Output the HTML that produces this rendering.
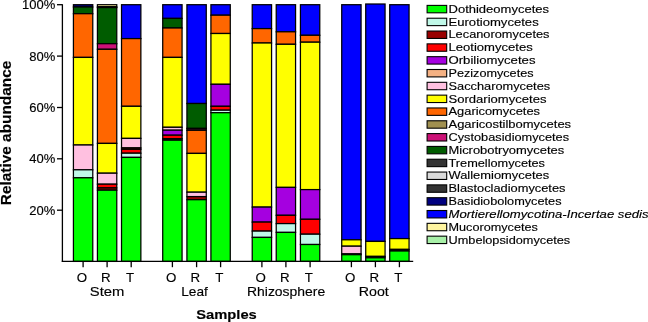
<!DOCTYPE html>
<html><head><meta charset="utf-8"><style>
html,body{margin:0;padding:0;background:#fff;}
body{width:648px;height:322px;overflow:hidden;}
svg{display:block;font-family:"Liberation Sans",sans-serif;will-change:transform;}
text{fill:#000;stroke:#000;stroke-width:0.15px;}
</style></head><body>
<svg width="648" height="322" viewBox="0 0 648 322">
<rect width="648" height="322" fill="#fff"/>
<rect x="73.42" y="4.70" width="19.35" height="2.30" fill="#000080" stroke="#000" stroke-width="1.25"/>
<rect x="73.42" y="7.00" width="19.35" height="6.70" fill="#005C00" stroke="#000" stroke-width="1.25"/>
<rect x="73.42" y="13.70" width="19.35" height="43.70" fill="#FF6600" stroke="#000" stroke-width="1.25"/>
<rect x="73.42" y="57.40" width="19.35" height="87.60" fill="#FFFF00" stroke="#000" stroke-width="1.25"/>
<rect x="73.42" y="145.00" width="19.35" height="24.80" fill="#FFC0E0" stroke="#000" stroke-width="1.25"/>
<rect x="73.42" y="169.80" width="19.35" height="8.00" fill="#C0F8E8" stroke="#000" stroke-width="1.25"/>
<rect x="73.42" y="177.80" width="19.35" height="83.60" fill="#00FF00" stroke="#000" stroke-width="1.25"/>
<rect x="97.42" y="4.70" width="19.35" height="2.10" fill="#FFF5A0" stroke="#000" stroke-width="1.25"/>
<rect x="97.42" y="6.80" width="19.35" height="0.80" fill="#1a1a1a" stroke="#000" stroke-width="1.25"/>
<rect x="97.42" y="7.60" width="19.35" height="36.10" fill="#005C00" stroke="#000" stroke-width="1.25"/>
<rect x="97.42" y="43.70" width="19.35" height="5.60" fill="#CC1177" stroke="#000" stroke-width="1.25"/>
<rect x="97.42" y="49.30" width="19.35" height="94.10" fill="#FF6600" stroke="#000" stroke-width="1.25"/>
<rect x="97.42" y="143.40" width="19.35" height="29.80" fill="#FFFF00" stroke="#000" stroke-width="1.25"/>
<rect x="97.42" y="173.20" width="19.35" height="11.00" fill="#FFC0E0" stroke="#000" stroke-width="1.25"/>
<rect x="97.42" y="184.20" width="19.35" height="3.70" fill="#FF0000" stroke="#000" stroke-width="1.25"/>
<rect x="97.42" y="187.90" width="19.35" height="2.30" fill="#990000" stroke="#000" stroke-width="1.25"/>
<rect x="97.42" y="190.20" width="19.35" height="71.20" fill="#00FF00" stroke="#000" stroke-width="1.25"/>
<rect x="121.52" y="4.70" width="19.35" height="33.90" fill="#0000FF" stroke="#000" stroke-width="1.25"/>
<rect x="121.52" y="38.60" width="19.35" height="67.70" fill="#FF6600" stroke="#000" stroke-width="1.25"/>
<rect x="121.52" y="106.30" width="19.35" height="32.10" fill="#FFFF00" stroke="#000" stroke-width="1.25"/>
<rect x="121.52" y="138.40" width="19.35" height="9.50" fill="#FFC0E0" stroke="#000" stroke-width="1.25"/>
<rect x="121.52" y="147.90" width="19.35" height="1.40" fill="#990000" stroke="#000" stroke-width="1.25"/>
<rect x="121.52" y="149.30" width="19.35" height="3.90" fill="#FF0000" stroke="#000" stroke-width="1.25"/>
<rect x="121.52" y="153.20" width="19.35" height="4.20" fill="#C0F8E8" stroke="#000" stroke-width="1.25"/>
<rect x="121.52" y="157.40" width="19.35" height="104.00" fill="#00FF00" stroke="#000" stroke-width="1.25"/>
<rect x="162.72" y="4.70" width="19.35" height="13.70" fill="#0000FF" stroke="#000" stroke-width="1.25"/>
<rect x="162.72" y="18.40" width="19.35" height="9.60" fill="#005C00" stroke="#000" stroke-width="1.25"/>
<rect x="162.72" y="28.00" width="19.35" height="29.40" fill="#FF6600" stroke="#000" stroke-width="1.25"/>
<rect x="162.72" y="57.40" width="19.35" height="69.90" fill="#FFFF00" stroke="#000" stroke-width="1.25"/>
<rect x="162.72" y="127.30" width="19.35" height="2.90" fill="#FFC0E0" stroke="#000" stroke-width="1.25"/>
<rect x="162.72" y="130.20" width="19.35" height="5.00" fill="#A500E0" stroke="#000" stroke-width="1.25"/>
<rect x="162.72" y="135.20" width="19.35" height="3.50" fill="#FF0000" stroke="#000" stroke-width="1.25"/>
<rect x="162.72" y="138.70" width="19.35" height="1.50" fill="#0a3a0a" stroke="#000" stroke-width="1.25"/>
<rect x="162.72" y="140.20" width="19.35" height="121.20" fill="#00FF00" stroke="#000" stroke-width="1.25"/>
<rect x="186.92" y="4.70" width="19.35" height="98.80" fill="#0000FF" stroke="#000" stroke-width="1.25"/>
<rect x="186.92" y="103.50" width="19.35" height="24.90" fill="#005C00" stroke="#000" stroke-width="1.25"/>
<rect x="186.92" y="128.40" width="19.35" height="1.90" fill="#4a0a2a" stroke="#000" stroke-width="1.25"/>
<rect x="186.92" y="130.30" width="19.35" height="23.10" fill="#FF6600" stroke="#000" stroke-width="1.25"/>
<rect x="186.92" y="153.40" width="19.35" height="38.80" fill="#FFFF00" stroke="#000" stroke-width="1.25"/>
<rect x="186.92" y="192.20" width="19.35" height="4.40" fill="#FFC0E0" stroke="#000" stroke-width="1.25"/>
<rect x="186.92" y="196.60" width="19.35" height="3.10" fill="#990000" stroke="#000" stroke-width="1.25"/>
<rect x="186.92" y="199.70" width="19.35" height="61.70" fill="#00FF00" stroke="#000" stroke-width="1.25"/>
<rect x="210.92" y="4.70" width="19.35" height="10.50" fill="#0000FF" stroke="#000" stroke-width="1.25"/>
<rect x="210.92" y="15.20" width="19.35" height="18.30" fill="#FF6600" stroke="#000" stroke-width="1.25"/>
<rect x="210.92" y="33.50" width="19.35" height="50.80" fill="#FFFF00" stroke="#000" stroke-width="1.25"/>
<rect x="210.92" y="84.30" width="19.35" height="22.00" fill="#A500E0" stroke="#000" stroke-width="1.25"/>
<rect x="210.92" y="106.30" width="19.35" height="3.90" fill="#FF0000" stroke="#000" stroke-width="1.25"/>
<rect x="210.92" y="110.20" width="19.35" height="2.50" fill="#C0F8E8" stroke="#000" stroke-width="1.25"/>
<rect x="210.92" y="112.70" width="19.35" height="148.70" fill="#00FF00" stroke="#000" stroke-width="1.25"/>
<rect x="252.22" y="4.70" width="19.35" height="23.90" fill="#0000FF" stroke="#000" stroke-width="1.25"/>
<rect x="252.22" y="28.60" width="19.35" height="14.40" fill="#FF6600" stroke="#000" stroke-width="1.25"/>
<rect x="252.22" y="43.00" width="19.35" height="164.10" fill="#FFFF00" stroke="#000" stroke-width="1.25"/>
<rect x="252.22" y="207.10" width="19.35" height="15.00" fill="#A500E0" stroke="#000" stroke-width="1.25"/>
<rect x="252.22" y="222.10" width="19.35" height="9.00" fill="#FF0000" stroke="#000" stroke-width="1.25"/>
<rect x="252.22" y="231.10" width="19.35" height="6.30" fill="#C0F8E8" stroke="#000" stroke-width="1.25"/>
<rect x="252.22" y="237.40" width="19.35" height="24.00" fill="#00FF00" stroke="#000" stroke-width="1.25"/>
<rect x="276.22" y="4.70" width="19.35" height="27.10" fill="#0000FF" stroke="#000" stroke-width="1.25"/>
<rect x="276.22" y="31.80" width="19.35" height="12.50" fill="#FF6600" stroke="#000" stroke-width="1.25"/>
<rect x="276.22" y="44.30" width="19.35" height="143.10" fill="#FFFF00" stroke="#000" stroke-width="1.25"/>
<rect x="276.22" y="187.40" width="19.35" height="27.90" fill="#A500E0" stroke="#000" stroke-width="1.25"/>
<rect x="276.22" y="215.30" width="19.35" height="8.30" fill="#FF0000" stroke="#000" stroke-width="1.25"/>
<rect x="276.22" y="223.60" width="19.35" height="8.80" fill="#C0F8E8" stroke="#000" stroke-width="1.25"/>
<rect x="276.22" y="232.40" width="19.35" height="29.00" fill="#00FF00" stroke="#000" stroke-width="1.25"/>
<rect x="300.43" y="4.70" width="19.35" height="30.60" fill="#0000FF" stroke="#000" stroke-width="1.25"/>
<rect x="300.43" y="35.30" width="19.35" height="6.90" fill="#FF6600" stroke="#000" stroke-width="1.25"/>
<rect x="300.43" y="42.20" width="19.35" height="147.40" fill="#FFFF00" stroke="#000" stroke-width="1.25"/>
<rect x="300.43" y="189.60" width="19.35" height="29.70" fill="#A500E0" stroke="#000" stroke-width="1.25"/>
<rect x="300.43" y="219.30" width="19.35" height="14.90" fill="#FF0000" stroke="#000" stroke-width="1.25"/>
<rect x="300.43" y="234.20" width="19.35" height="10.30" fill="#C0F8E8" stroke="#000" stroke-width="1.25"/>
<rect x="300.43" y="244.50" width="19.35" height="16.90" fill="#00FF00" stroke="#000" stroke-width="1.25"/>
<rect x="341.72" y="4.70" width="19.35" height="235.10" fill="#0000FF" stroke="#000" stroke-width="1.25"/>
<rect x="341.72" y="239.80" width="19.35" height="6.40" fill="#FFFF00" stroke="#000" stroke-width="1.25"/>
<rect x="341.72" y="246.20" width="19.35" height="7.70" fill="#FFC0E0" stroke="#000" stroke-width="1.25"/>
<rect x="341.72" y="253.90" width="19.35" height="0.80" fill="#1a1a1a" stroke="#000" stroke-width="1.25"/>
<rect x="341.72" y="254.70" width="19.35" height="6.70" fill="#00FF00" stroke="#000" stroke-width="1.25"/>
<rect x="365.72" y="4.00" width="19.35" height="237.40" fill="#0000FF" stroke="#000" stroke-width="1.25"/>
<rect x="365.72" y="241.40" width="19.35" height="15.00" fill="#FFFF00" stroke="#000" stroke-width="1.25"/>
<rect x="365.72" y="256.40" width="19.35" height="1.40" fill="#0a3a0a" stroke="#000" stroke-width="1.25"/>
<rect x="365.72" y="257.80" width="19.35" height="3.60" fill="#00FF00" stroke="#000" stroke-width="1.25"/>
<rect x="389.72" y="4.70" width="19.35" height="233.90" fill="#0000FF" stroke="#000" stroke-width="1.25"/>
<rect x="389.72" y="238.60" width="19.35" height="10.80" fill="#FFFF00" stroke="#000" stroke-width="1.25"/>
<rect x="389.72" y="249.40" width="19.35" height="1.60" fill="#1a1a1a" stroke="#000" stroke-width="1.25"/>
<rect x="389.72" y="251.00" width="19.35" height="10.40" fill="#00FF00" stroke="#000" stroke-width="1.25"/>
<line x1="62.4" y1="4.2" x2="62.4" y2="262.0" stroke="#000" stroke-width="1.3"/>
<line x1="61.8" y1="261.4" x2="413.2" y2="261.4" stroke="#000" stroke-width="1.3"/>
<line x1="57" y1="4.7" x2="62.4" y2="4.7" stroke="#000" stroke-width="1.3"/>
<text x="55.3" y="9.1" text-anchor="end" font-size="13">100%</text>
<line x1="57" y1="56.1" x2="62.4" y2="56.1" stroke="#000" stroke-width="1.3"/>
<text x="55.3" y="60.5" text-anchor="end" font-size="13">80%</text>
<line x1="57" y1="107.5" x2="62.4" y2="107.5" stroke="#000" stroke-width="1.3"/>
<text x="55.3" y="111.9" text-anchor="end" font-size="13">60%</text>
<line x1="57" y1="158.8" x2="62.4" y2="158.8" stroke="#000" stroke-width="1.3"/>
<text x="55.3" y="163.2" text-anchor="end" font-size="13">40%</text>
<line x1="57" y1="210.2" x2="62.4" y2="210.2" stroke="#000" stroke-width="1.3"/>
<text x="55.3" y="214.6" text-anchor="end" font-size="13">20%</text>
<line x1="83.10" y1="261.4" x2="83.10" y2="267.2" stroke="#000" stroke-width="1.3"/>
<text x="81.90" y="282.1" text-anchor="middle" font-size="13.3">O</text>
<line x1="107.10" y1="261.4" x2="107.10" y2="267.2" stroke="#000" stroke-width="1.3"/>
<text x="105.90" y="282.1" text-anchor="middle" font-size="13.3">R</text>
<line x1="131.20" y1="261.4" x2="131.20" y2="267.2" stroke="#000" stroke-width="1.3"/>
<text x="130.00" y="282.1" text-anchor="middle" font-size="13.3">T</text>
<line x1="172.40" y1="261.4" x2="172.40" y2="267.2" stroke="#000" stroke-width="1.3"/>
<text x="171.20" y="282.1" text-anchor="middle" font-size="13.3">O</text>
<line x1="196.60" y1="261.4" x2="196.60" y2="267.2" stroke="#000" stroke-width="1.3"/>
<text x="195.40" y="282.1" text-anchor="middle" font-size="13.3">R</text>
<line x1="220.60" y1="261.4" x2="220.60" y2="267.2" stroke="#000" stroke-width="1.3"/>
<text x="219.40" y="282.1" text-anchor="middle" font-size="13.3">T</text>
<line x1="261.90" y1="261.4" x2="261.90" y2="267.2" stroke="#000" stroke-width="1.3"/>
<text x="260.70" y="282.1" text-anchor="middle" font-size="13.3">O</text>
<line x1="285.90" y1="261.4" x2="285.90" y2="267.2" stroke="#000" stroke-width="1.3"/>
<text x="284.70" y="282.1" text-anchor="middle" font-size="13.3">R</text>
<line x1="310.10" y1="261.4" x2="310.10" y2="267.2" stroke="#000" stroke-width="1.3"/>
<text x="308.90" y="282.1" text-anchor="middle" font-size="13.3">T</text>
<line x1="351.40" y1="261.4" x2="351.40" y2="267.2" stroke="#000" stroke-width="1.3"/>
<text x="350.20" y="282.1" text-anchor="middle" font-size="13.3">O</text>
<line x1="375.40" y1="261.4" x2="375.40" y2="267.2" stroke="#000" stroke-width="1.3"/>
<text x="374.20" y="282.1" text-anchor="middle" font-size="13.3">R</text>
<line x1="399.40" y1="261.4" x2="399.40" y2="267.2" stroke="#000" stroke-width="1.3"/>
<text x="398.20" y="282.1" text-anchor="middle" font-size="13.3">T</text>
<text x="89.80" y="296.3" font-size="13.6" textLength="34.6" lengthAdjust="spacingAndGlyphs">Stem</text>
<text x="181.20" y="296.3" font-size="13.6" textLength="26.6" lengthAdjust="spacingAndGlyphs">Leaf</text>
<text x="247.00" y="296.3" font-size="13.6" textLength="78.2" lengthAdjust="spacingAndGlyphs">Rhizosphere</text>
<text x="358.80" y="296.3" font-size="13.6" textLength="30" lengthAdjust="spacingAndGlyphs">Root</text>
<text x="196.2" y="318.5" font-size="13" font-weight="bold" textLength="60.6" lengthAdjust="spacingAndGlyphs">Samples</text>
<text transform="translate(10.6,205.2) rotate(-90)" x="0" y="0" font-size="14" font-weight="bold" textLength="144.5" lengthAdjust="spacingAndGlyphs">Relative abundance</text>
<rect x="427.1" y="5.40" width="19.6" height="7.4" fill="#00FF00" stroke="#000" stroke-width="1.1"/>
<text x="448.5" y="12.80" font-size="11.3" textLength="100.5" lengthAdjust="spacingAndGlyphs">Dothideomycetes</text>
<rect x="427.1" y="18.22" width="19.6" height="7.4" fill="#C0F8E8" stroke="#000" stroke-width="1.1"/>
<text x="448.5" y="25.62" font-size="11.3" textLength="90.2" lengthAdjust="spacingAndGlyphs">Eurotiomycetes</text>
<rect x="427.1" y="31.04" width="19.6" height="7.4" fill="#990000" stroke="#000" stroke-width="1.1"/>
<text x="448.5" y="38.44" font-size="11.3" textLength="101.0" lengthAdjust="spacingAndGlyphs">Lecanoromycetes</text>
<rect x="427.1" y="43.86" width="19.6" height="7.4" fill="#FF0000" stroke="#000" stroke-width="1.1"/>
<text x="448.5" y="51.26" font-size="11.3" textLength="84.2" lengthAdjust="spacingAndGlyphs">Leotiomycetes</text>
<rect x="427.1" y="56.68" width="19.6" height="7.4" fill="#A500E0" stroke="#000" stroke-width="1.1"/>
<text x="448.5" y="64.08" font-size="11.3" textLength="87.0" lengthAdjust="spacingAndGlyphs">Orbiliomycetes</text>
<rect x="427.1" y="69.50" width="19.6" height="7.4" fill="#F4B183" stroke="#000" stroke-width="1.1"/>
<text x="448.5" y="76.90" font-size="11.3" textLength="85.0" lengthAdjust="spacingAndGlyphs">Pezizomycetes</text>
<rect x="427.1" y="82.32" width="19.6" height="7.4" fill="#FFC0E0" stroke="#000" stroke-width="1.1"/>
<text x="448.5" y="89.72" font-size="11.3" textLength="101.7" lengthAdjust="spacingAndGlyphs">Saccharomycetes</text>
<rect x="427.1" y="95.14" width="19.6" height="7.4" fill="#FFFF00" stroke="#000" stroke-width="1.1"/>
<text x="448.5" y="102.54" font-size="11.3" textLength="98.0" lengthAdjust="spacingAndGlyphs">Sordariomycetes</text>
<rect x="427.1" y="107.96" width="19.6" height="7.4" fill="#FF6600" stroke="#000" stroke-width="1.1"/>
<text x="448.5" y="115.36" font-size="11.3" textLength="91.5" lengthAdjust="spacingAndGlyphs">Agaricomycetes</text>
<rect x="427.1" y="120.78" width="19.6" height="7.4" fill="#A09050" stroke="#000" stroke-width="1.1"/>
<text x="448.5" y="128.18" font-size="11.3" textLength="122.6" lengthAdjust="spacingAndGlyphs">Agaricostilbomycetes</text>
<rect x="427.1" y="133.60" width="19.6" height="7.4" fill="#CC1177" stroke="#000" stroke-width="1.1"/>
<text x="448.5" y="141.00" font-size="11.3" textLength="120.6" lengthAdjust="spacingAndGlyphs">Cystobasidiomycetes</text>
<rect x="427.1" y="146.42" width="19.6" height="7.4" fill="#005C00" stroke="#000" stroke-width="1.1"/>
<text x="448.5" y="153.82" font-size="11.3" textLength="115.7" lengthAdjust="spacingAndGlyphs">Microbotryomycetes</text>
<rect x="427.1" y="159.24" width="19.6" height="7.4" fill="#333333" stroke="#000" stroke-width="1.1"/>
<text x="448.5" y="166.64" font-size="11.3" textLength="96.5" lengthAdjust="spacingAndGlyphs">Tremellomycetes</text>
<rect x="427.1" y="172.06" width="19.6" height="7.4" fill="#D9D9D9" stroke="#000" stroke-width="1.1"/>
<text x="448.5" y="179.46" font-size="11.3" textLength="100.6" lengthAdjust="spacingAndGlyphs">Wallemiomycetes</text>
<rect x="427.1" y="184.88" width="19.6" height="7.4" fill="#333333" stroke="#000" stroke-width="1.1"/>
<text x="448.5" y="192.28" font-size="11.3" textLength="117.0" lengthAdjust="spacingAndGlyphs">Blastocladiomycetes</text>
<rect x="427.1" y="197.70" width="19.6" height="7.4" fill="#000080" stroke="#000" stroke-width="1.1"/>
<text x="448.5" y="205.10" font-size="11.3" textLength="113.0" lengthAdjust="spacingAndGlyphs">Basidiobolomycetes</text>
<rect x="427.1" y="210.52" width="19.6" height="7.4" fill="#0000FF" stroke="#000" stroke-width="1.1"/>
<text x="448.5" y="217.92" font-size="11.3" style="font-style:italic" textLength="200.0" lengthAdjust="spacingAndGlyphs">Mortierellomycotina-Incertae sedis</text>
<rect x="427.1" y="223.34" width="19.6" height="7.4" fill="#FFF5A0" stroke="#000" stroke-width="1.1"/>
<text x="448.5" y="230.74" font-size="11.3" textLength="89.3" lengthAdjust="spacingAndGlyphs">Mucoromycetes</text>
<rect x="427.1" y="236.16" width="19.6" height="7.4" fill="#A8F0A8" stroke="#000" stroke-width="1.1"/>
<text x="448.5" y="243.56" font-size="11.3" textLength="121.7" lengthAdjust="spacingAndGlyphs">Umbelopsidomycetes</text>
</svg>
</body></html>
